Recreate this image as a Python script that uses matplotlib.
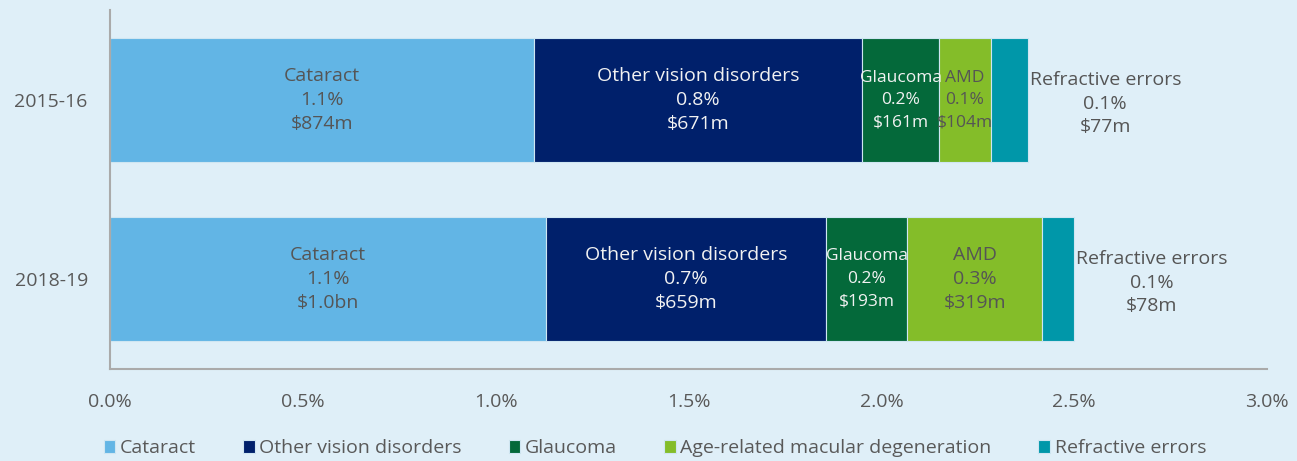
import matplotlib.pyplot as plt
import numpy as np

plt.rcParams['font.family'] = ['Open Sans', 'DejaVu Sans']

years = ['2015-16', '2018-19']
causes = ['Cataract', 'Other vision disorders', 'Glaucoma',
          'Age-related macular degeneration', 'Refractive errors']
short_names = ['Cataract', 'Other vision disorders', 'Glaucoma', 'AMD', 'Refractive errors']

# share of total health spending (%)
cataract = [1.10, 1.13]
other = [0.85, 0.727]
glaucoma = [0.20, 0.21]
amd = [0.133, 0.35]
refractive = [0.096, 0.083]

pct_labels = [['1.1%', '0.8%', '0.2%', '0.1%', '0.1%'],
              ['1.1%', '0.7%', '0.2%', '0.3%', '0.1%']]
cost_labels = [['$874m', '$671m', '$161m', '$104m', '$77m'],
               ['$1.0bn', '$659m', '$193m', '$319m', '$78m']]

colors = ['#62b5e5', '#00206b', '#04693a', '#84bd29', '#0097a9']
text_colors = ['#555555', '#f2f2f2', '#f2f2f2', '#555555', '#555555']
bg = '#dfeff8'

series = [cataract, other, glaucoma, amd, refractive]

fig = plt.figure(figsize=(12.97, 4.61), dpi=100, facecolor=bg)
ax = fig.add_axes([0.0848, 0.1996, 0.8922, 0.7784])
ax.set_facecolor(bg)

y = np.arange(len(years))
left = np.zeros(len(years))
for i, vals in enumerate(series):
    vals = np.array(vals)
    ax.barh(y, vals, left=left, height=0.69, color=colors[i],
            edgecolor='#cfe6f2', linewidth=0.8, label=causes[i])
    for j in range(len(years)):
        txt = f'{short_names[i]}\n{pct_labels[j][i]}\n{cost_labels[j][i]}'
        # narrow segments get a slightly smaller label
        fs = 12.5 if vals[j] < 0.25 else 14
        if i == len(series) - 1:
            # refractive errors label sits outside the bar
            ax.text(left[j] + vals[j] + 0.005, y[j] + 0.02, txt, ha='left', va='center',
                    multialignment='center', color=text_colors[i], fontsize=14,
                    linespacing=1.4)
        else:
            ax.text(left[j] + vals[j] / 2, y[j], txt, ha='center', va='center',
                    color=text_colors[i], fontsize=fs, linespacing=1.55 if fs < 14 else 1.45)
    left = left + vals

ax.set_xlim(0, 3.0)
ax.set_ylim(1.503, -0.503)
ax.set_xticks(np.arange(0, 3.01, 0.5))
ax.set_xticklabels([f'{v:.1f}%' for v in np.arange(0, 3.01, 0.5)])
ax.set_yticks(y)
ax.set_yticklabels(years)
ax.tick_params(axis='both', length=0, labelsize=14, colors='#595959')
ax.tick_params(axis='x', pad=17)
ax.tick_params(axis='y', pad=16)

for s in ['top', 'right']:
    ax.spines[s].set_visible(False)
for s in ['left', 'bottom']:
    ax.spines[s].set_color('#aaaaaa')
    ax.spines[s].set_linewidth(1.5)

leg = fig.legend(loc='lower center', bbox_to_anchor=(0.505, -0.03), ncol=5, frameon=False,
                 fontsize=14, handlelength=0.6, handleheight=0.7, handletextpad=0.25,
                 columnspacing=2.4)
for t in leg.get_texts():
    t.set_color('#595959')

fig.savefig('out.png', dpi=100, facecolor=bg)
